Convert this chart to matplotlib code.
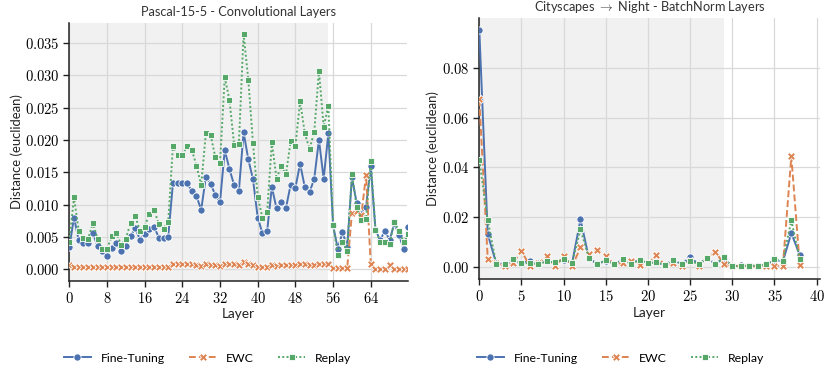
import matplotlib
matplotlib.use("Agg")
import matplotlib.pyplot as plt
from matplotlib.ticker import FuncFormatter, MultipleLocator
from matplotlib.lines import Line2D

plt.rcParams['mathtext.fontset'] = 'cm'
plt.rcParams['font.family'] = ['Lato', 'DejaVu Sans']

# ---------------- data ----------------
methods = ["Fine-Tuning", "EWC", "Replay"]

# Left: Pascal-15-5 convolutional layers (layers 0..72)
pascal_ft = [0.0034, 0.0080, 0.0045, 0.0041, 0.0041, 0.0056, 0.0036, 0.0028, 0.0021, 0.0033,
             0.0040, 0.0028, 0.0036, 0.0051, 0.0064, 0.0046, 0.0055, 0.0062, 0.0066, 0.0049,
             0.0048, 0.0050, 0.0133, 0.0133, 0.0133, 0.0133, 0.0121, 0.0113, 0.0092, 0.0143,
             0.0132, 0.0115, 0.0104, 0.0184, 0.0155, 0.0130, 0.0121, 0.0212, 0.0170, 0.0139,
             0.0080, 0.0056, 0.0059, 0.0127, 0.0094, 0.0104, 0.0095, 0.0131, 0.0126, 0.0163,
             0.0127, 0.0119, 0.0140, 0.0200, 0.0140, 0.0210, 0.0068, 0.0032, 0.0057, 0.0035,
             0.0142, 0.0103, 0.0086, 0.0097, 0.0159, 0.0061, 0.0045, 0.0060, 0.0045, 0.0071,
             0.0053, 0.0031, 0.0065]
pascal_ewc = [0.0007, 0.0004, 0.0003, 0.0003, 0.0003, 0.0003, 0.0003, 0.0003, 0.0003, 0.0003,
              0.0003, 0.0003, 0.0003, 0.0003, 0.0004, 0.0004, 0.0004, 0.0004, 0.0004, 0.0004,
              0.0004, 0.0004, 0.0008, 0.0008, 0.0009, 0.0009, 0.0008, 0.0006, 0.0005, 0.0008,
              0.0007, 0.0006, 0.0005, 0.0009, 0.0008, 0.0008, 0.0006, 0.0011, 0.0009, 0.0006,
              0.0004, 0.0004, 0.0004, 0.0006, 0.0005, 0.0006, 0.0007, 0.0007, 0.0006, 0.0009,
              0.0008, 0.0007, 0.0006, 0.0009, 0.0008, 0.0009, 0.0002, 0.0002, 0.0002, 0.0002,
              0.0087, 0.0090, 0.0084, 0.0146, 0.0008, 0.0001, 0.0001, 0.0001, 0.0007, 0.0001,
              0.0001, 0.0001, 0.0001]
pascal_replay = [0.0043, 0.0111, 0.0060, 0.0049, 0.0047, 0.0072, 0.0047, 0.0032, 0.0031, 0.0051,
                 0.0056, 0.0038, 0.0047, 0.0072, 0.0082, 0.0060, 0.0066, 0.0086, 0.0092, 0.0070,
                 0.0063, 0.0073, 0.0191, 0.0176, 0.0176, 0.0191, 0.0185, 0.0160, 0.0130, 0.0211,
                 0.0208, 0.0173, 0.0165, 0.0297, 0.0262, 0.0192, 0.0193, 0.0364, 0.0293, 0.0195,
                 0.0112, 0.0080, 0.0088, 0.0196, 0.0140, 0.0160, 0.0147, 0.0198, 0.0190, 0.0260,
                 0.0210, 0.0186, 0.0212, 0.0307, 0.0220, 0.0253, 0.0069, 0.0022, 0.0042, 0.0028,
                 0.0147, 0.0097, 0.0076, 0.0078, 0.0168, 0.0061, 0.0043, 0.0043, 0.0039, 0.0073,
                 0.0060, 0.0042, 0.0055]

# Right: Cityscapes -> Night batchnorm layers (layers 0..38)
city_ft = [0.0951, 0.0133, 0.0017, 0.0013, 0.0024, 0.0017, 0.0027, 0.0017, 0.0024, 0.0020,
           0.0030, 0.0017, 0.0192, 0.0037, 0.0013, 0.0027, 0.0013, 0.0030, 0.0017, 0.0030,
           0.0017, 0.0023, 0.0010, 0.0030, 0.0013, 0.0041, 0.0013, 0.0036, 0.0015, 0.0036,
           0.0004, 0.0010, 0.0007, 0.0007, 0.0010, 0.0028, 0.0024, 0.0137, 0.0049]
city_ewc = [0.0673, 0.0033, 0.0017, 0.0004, 0.0017, 0.0067, 0.0004, 0.0017, 0.0044, 0.0004,
            0.0044, 0.0004, 0.0080, 0.0055, 0.0071, 0.0047, 0.0013, 0.0017, 0.0027, 0.0010,
            0.0017, 0.0048, 0.0010, 0.0017, 0.0004, 0.0024, 0.0004, 0.0036, 0.0063, 0.0013,
            0.0004, 0.0007, 0.0004, 0.0004, 0.0007, 0.0007, 0.0007, 0.0445, 0.0010]
city_replay = [0.0430, 0.0188, 0.0015, 0.0013, 0.0033, 0.0017, 0.0017, 0.0013, 0.0024, 0.0020,
               0.0033, 0.0017, 0.0153, 0.0037, 0.0013, 0.0029, 0.0013, 0.0033, 0.0013, 0.0030,
               0.0017, 0.0020, 0.0009, 0.0030, 0.0013, 0.0027, 0.0013, 0.0036, 0.0013, 0.0040,
               0.0004, 0.0007, 0.0007, 0.0007, 0.0013, 0.0033, 0.0027, 0.0188, 0.0033]

pascal_shade_end = 55
city_shade_end = 29

colors = ["#4C72B0", "#DD8452", "#55A868"]
styles = [dict(ls="-", marker="o", ms=5.2),
          dict(ls=(0, (3.5, 1.6)), marker="X", ms=5.2),
          dict(ls=(0, (1, 1.2)), marker="s", ms=4.4)]

W, H = 829, 369
fig = plt.figure(figsize=(W / 100, H / 100), dpi=100)

def fx(px):
    return px / W

def fy(py):
    return 1 - py / H

ax1 = fig.add_axes([fx(69.3), fy(281), fx(407.5) - fx(69.3), fy(22.7) - fy(281)])
ax2 = fig.add_axes([fx(479.3), fy(279.3), fx(820) - fx(479.3), fy(18.3) - fy(279.3)])

def mathfmt(decimals):
    return FuncFormatter(lambda v, p: "$%s$" % (("%." + str(decimals) + "f") % v))

def draw(ax, series, shade_end, title):
    ax.axvspan(0, shade_end, color="#f1f1f1", zorder=0, lw=0)
    for vals, c, st in zip(series, colors, styles):
        ax.plot(range(len(vals)), vals, color=c, lw=1.4, ls=st["ls"],
                marker=st["marker"], ms=st["ms"], mec="white", mew=0.6, zorder=3)
    ax.grid(True, color="#d9d9d9", lw=0.9, zorder=1)
    ax.set_axisbelow(True)
    for s in ["top", "right"]:
        ax.spines[s].set_visible(False)
    for s in ["left", "bottom"]:
        ax.spines[s].set_linewidth(1.1)
        ax.spines[s].set_color("#222222")
    ax.tick_params(axis="both", length=4, width=1.0, color="#222222", labelsize=10.5, pad=3)
    ax.set_title(title, fontsize=9.2, color="#333333", pad=5)
    ax.set_xlabel("Layer", fontsize=9.8, color="#222222", labelpad=2)
    ax.set_ylabel("Distance (euclidean)", fontsize=9.4, color="#222222")

draw(ax1, [pascal_ft, pascal_ewc, pascal_replay], pascal_shade_end,
     "Pascal-15-5 - Convolutional Layers")
ax1.set_xlim(0, 71.8)
ax1.xaxis.set_major_locator(MultipleLocator(8))
ax1.yaxis.set_major_locator(MultipleLocator(0.005))
ax1.set_ylim(-0.0018, 0.0381)
ax1.xaxis.set_major_formatter(mathfmt(0))
ax1.yaxis.set_major_formatter(mathfmt(3))

draw(ax2, [city_ft, city_ewc, city_replay], city_shade_end,
     r"Cityscapes $\rightarrow$ Night - BatchNorm Layers")
ax2.set_xlim(0, 40.4)
ax2.xaxis.set_major_locator(MultipleLocator(5))
ax2.yaxis.set_major_locator(MultipleLocator(0.02))
ax2.set_ylim(-0.00475, 0.0997)
ax2.xaxis.set_major_formatter(mathfmt(0))
ax2.yaxis.set_major_formatter(mathfmt(2))

ax1.yaxis.set_label_coords(-(69.3 - 23) / (407.5 - 69.3), 0.5)
ax2.yaxis.set_label_coords(-(479.3 - 439) / (820 - 479.3), 0.5)

handles = [Line2D([], [], color=c, lw=1.4, ls=st["ls"], marker=st["marker"],
                  ms=st["ms"], mec="white", mew=0.6)
           for c, st in zip(colors, styles)]
for cx in (207.5 / W, 620.5 / W):
    fig.legend(handles, methods, loc="center", bbox_to_anchor=(cx, fy(358)),
               ncol=3, frameon=False, fontsize=8.8, handlelength=2.2,
               columnspacing=2.0, handletextpad=0.8)

fig.savefig("out.png", dpi=100)
